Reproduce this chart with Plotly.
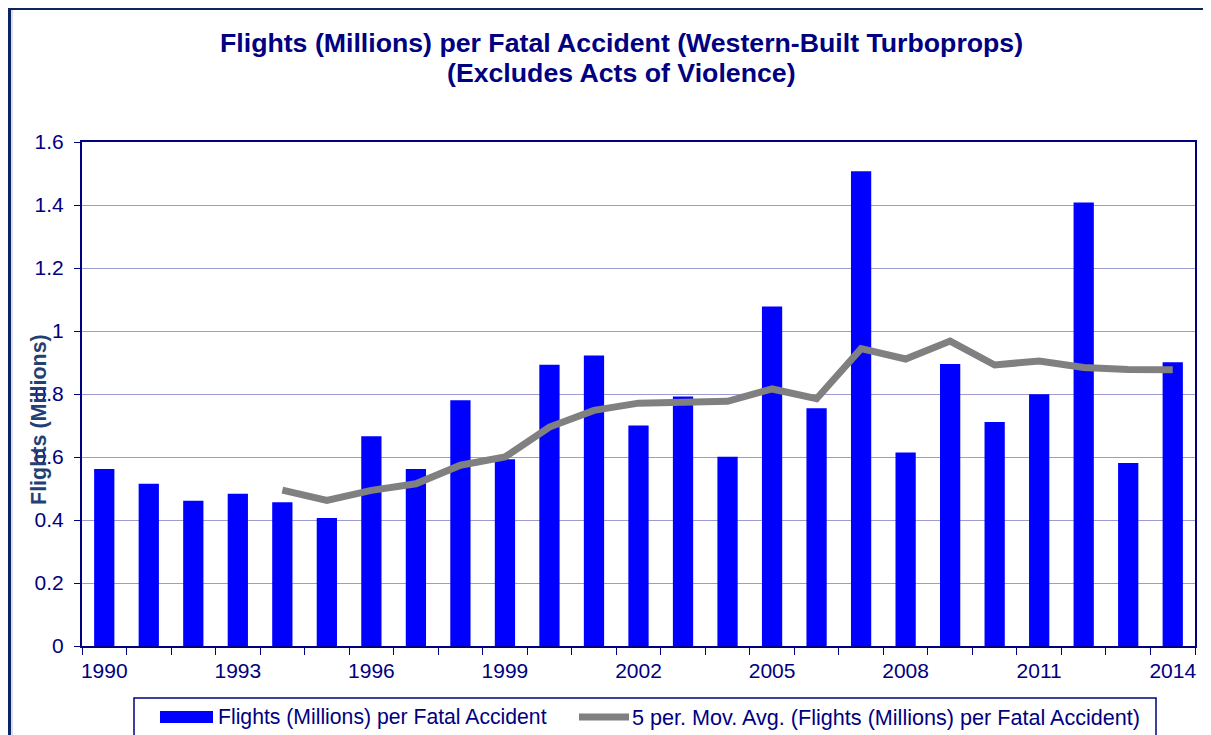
import plotly.graph_objects as go

# ---- data ----
years = list(range(1990, 2015))
flights_per_accident = [0.562, 0.515, 0.461, 0.483, 0.456, 0.406, 0.666, 0.562, 0.780, 0.593,
                        0.893, 0.922, 0.700, 0.792, 0.601, 1.078, 0.755, 1.507, 0.614, 0.895,
                        0.711, 0.799, 1.408, 0.581, 0.901]
moving_avg_years = list(range(1994, 2015))
moving_avg = [0.495, 0.462, 0.494, 0.515, 0.574, 0.600, 0.695, 0.748, 0.771, 0.775,
              0.777, 0.816, 0.785, 0.944, 0.911, 0.968, 0.892, 0.905, 0.884, 0.878, 0.877]
tick_years = years[::3]
tick_labels = [str(y) for y in tick_years]

bar_name = "Flights (Millions) per Fatal Accident"
line_name = "5 per. Mov. Avg. (Flights (Millions) per Fatal Accident)"
title_1 = "Flights (Millions) per Fatal Accident (Western-Built Turboprops)"
title_2 = "(Excludes Acts of Violence)"
y_title = "Flights (Millions)"

# ---- geometry (page pixel targets; page body adds an 8px offset) ----
OFF = 8
W, H = 1211, 735
L, R, T, B = 82 - OFF, 1195 - OFF, 142 - OFF, 646 - OFF
FONT = "Liberation Sans, Arial, Helvetica, sans-serif"
NAVY = "#000080"


def px(x):
    return (x - OFF - L) / (R - L)


def py(y):
    return (B - (y - OFF)) / (B - T)


fig = go.Figure()
fig.add_trace(go.Bar(x=years, y=flights_per_accident, name=bar_name,
                     marker=dict(color="#0000FF", line=dict(width=0)),
                     showlegend=False))
fig.add_trace(go.Scatter(x=moving_avg_years, y=moving_avg, name=line_name, mode="lines",
                         line=dict(color="#808080", width=7),
                         showlegend=False))

boundaries = [y - 0.5 for y in years] + [years[-1] + 0.5]

fig.update_layout(
    width=W, height=H, autosize=False,
    margin=dict(l=L, r=W - R, t=T, b=H - B, pad=0),
    paper_bgcolor="white", plot_bgcolor="white",
    bargap=0.545,
    font=dict(family=FONT, size=21, color=NAVY),
    xaxis=dict(
        range=[years[0] - 0.5, years[-1] + 0.5],
        tickmode="array", tickvals=tick_years, ticktext=tick_labels,
        ticks="", showgrid=False, zeroline=False,
        showline=True, linecolor=NAVY, linewidth=2, mirror=True,
        tickfont=dict(family=FONT, size=21, color=NAVY),
        ticklabelstandoff=5,
        minor=dict(tickmode="array", tickvals=boundaries, ticks="outside",
                   ticklen=7, tickwidth=1, tickcolor=NAVY, showgrid=False),
    ),
    yaxis=dict(
        range=[0, 1.6], dtick=0.2, tick0=0,
        ticks="outside", ticklen=6, tickwidth=1, tickcolor=NAVY,
        showgrid=True, gridcolor="#9c9cd0", gridwidth=1,
        zeroline=False,
        showline=True, linecolor=NAVY, linewidth=2, mirror=True,
        tickfont=dict(family=FONT, size=21, color=NAVY),
        ticklabelstandoff=6,
    ),
)

shapes = [
    # outer chart frame
    dict(type="line", xref="paper", yref="paper", x0=px(9.5), x1=px(9.5), y0=py(9), y1=py(760),
         line=dict(color="#0a2466", width=3)),
    dict(type="line", xref="paper", yref="paper", x0=px(12), x1=px(12), y0=py(10), y1=py(760),
         line=dict(color="#b8c0d8", width=1)),
    dict(type="line", xref="paper", yref="paper", x0=px(8), x1=px(1209), y0=py(9), y1=py(9),
         line=dict(color="#0a2466", width=2)),
    dict(type="line", xref="paper", yref="paper", x0=px(1208.5), x1=px(1208.5), y0=py(10), y1=py(760),
         line=dict(color="#c8d0e0", width=1.5)),
    # legend box
    dict(type="rect", xref="paper", yref="paper", x0=px(134), x1=px(1156), y0=py(698), y1=py(770),
         line=dict(color=NAVY, width=1.5), fillcolor="rgba(0,0,0,0)"),
    # legend bar swatch
    dict(type="rect", xref="paper", yref="paper", x0=px(160), x1=px(213), y0=py(711), y1=py(723),
         line=dict(width=0), fillcolor="#0000FF"),
    # legend line swatch
    dict(type="line", xref="paper", yref="paper", x0=px(579), x1=px(629), y0=py(717), y1=py(717),
         line=dict(color="#808080", width=7)),
]

annotations = [
    dict(text="<b>%s</b>" % title_1, xref="paper", yref="paper", x=px(621), y=py(43),
         xanchor="center", yanchor="middle", showarrow=False,
         font=dict(family=FONT, size=26.7, color=NAVY)),
    dict(text="<b>%s</b>" % title_2, xref="paper", yref="paper", x=px(621), y=py(73),
         xanchor="center", yanchor="middle", showarrow=False,
         font=dict(family=FONT, size=26.7, color=NAVY)),
    dict(text="<b>%s</b>" % y_title, xref="paper", yref="paper", x=px(39), y=py(420),
         xanchor="center", yanchor="middle", showarrow=False, textangle=-90,
         font=dict(family=FONT, size=21.5, color="#243F73")),
    dict(text=bar_name, xref="paper", yref="paper", x=px(216), y=py(717),
         xanchor="left", yanchor="middle", showarrow=False,
         font=dict(family=FONT, size=21.2, color=NAVY)),
    dict(text=line_name, xref="paper", yref="paper", x=px(630), y=py(717),
         xanchor="left", yanchor="middle", showarrow=False,
         font=dict(family=FONT, size=21.6, color=NAVY)),
]

fig.update_layout(shapes=shapes, annotations=annotations)
fig.write_html("out.html")
